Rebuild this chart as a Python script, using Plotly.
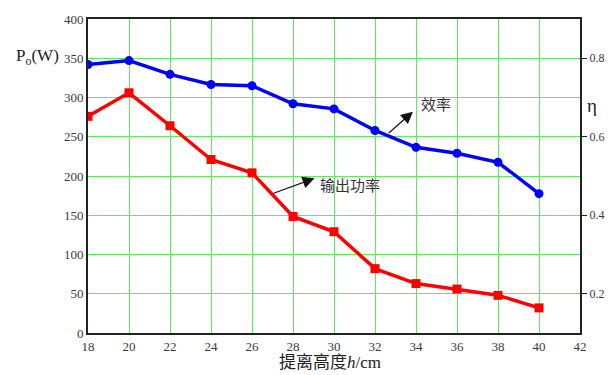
import plotly.graph_objects as go

# Lift-off height h (cm)
heights = [18, 20, 22, 24, 26, 28, 30, 32, 34, 36, 38, 40]
# Output power Po (W)
power = [276, 306, 264, 221, 204, 148.5, 129, 82, 63, 56, 48, 32]
# Efficiency η
efficiency = [0.784, 0.794, 0.759, 0.733, 0.730, 0.684, 0.671, 0.616, 0.573, 0.558, 0.535, 0.455]

x_ticks = [18, 20, 22, 24, 26, 28, 30, 32, 34, 36, 38, 40, 42]
left_ticks = [0, 50, 100, 150, 200, 250, 300, 350, 400]
right_ticks = [0.2, 0.4, 0.6, 0.8]

SERIF = "Liberation Serif, Noto Sans CJK SC, serif"
GRID = "rgb(90,238,90)"
TICK_COLOR = "#3a3a3a"

fig = go.Figure()

fig.add_trace(go.Scatter(
    x=heights, y=efficiency, yaxis="y2", mode="lines+markers",
    line=dict(color="#0000ff", width=3.5),
    marker=dict(symbol="circle", size=9, color="#0000ff"),
    showlegend=False,
))
fig.add_trace(go.Scatter(
    x=heights, y=power, mode="lines+markers",
    line=dict(color="#ff0000", width=3.5),
    marker=dict(symbol="square", size=9, color="#ff0000"),
    showlegend=False,
))

tick_font = dict(family=SERIF, size=13, color=TICK_COLOR)

fig.update_layout(
    width=616, height=375,
    margin=dict(l=88, r=22, t=17, b=42),
    paper_bgcolor="white", plot_bgcolor="white",
    font=dict(family=SERIF, color=TICK_COLOR, size=13),
    xaxis=dict(
        range=[18, 42], tickvals=x_ticks, ticktext=[str(v) for v in x_ticks],
        showgrid=True, gridcolor=GRID, gridwidth=1,
        showline=True, linecolor="#222", linewidth=2, mirror=True,
        ticks="", zeroline=False, tickfont=tick_font,
    ),
    yaxis=dict(
        range=[0, 400], tickvals=left_ticks, ticktext=[str(v) for v in left_ticks],
        showgrid=True, gridcolor=GRID, gridwidth=1,
        showline=True, linecolor="#222", linewidth=2, mirror=True,
        ticks="", zeroline=False, tickfont=tick_font,
    ),
    yaxis2=dict(
        range=[0.1, 0.9], overlaying="y", side="right",
        tickvals=right_ticks, ticktext=[f"{v:.1f}" for v in right_ticks],
        showgrid=False, zeroline=False, showline=False,
        ticks="outside", ticklen=6, tickwidth=1, tickcolor="#222",
        tickfont=dict(family=SERIF, size=12, color=TICK_COLOR),
    ),
)

# free text, positioned in pixels and converted to paper coordinates below
labels = [
    dict(text="P<sub>o</sub>(W)", x=36, y=55, size=17, color="#222"),
    dict(text="η", x=606, y=104, size=19, color="#222"),
    dict(text="提离高度<i>h</i>/cm", x=337, y=363, size=17, color="#222"),
    dict(text="效率", x=446, y=104, size=15, color="#333"),
    dict(text="输出功率", x=357, y=185, size=15, color="#333"),
]
px_l, px_r, px_t, px_b = 88, 594, 17, 333
annotations = []
for lb in labels:
    annotations.append(dict(
        text=lb["text"], showarrow=False,
        xref="paper", yref="paper",
        x=(lb["x"] - px_l) / (px_r - px_l),
        y=(px_b - lb["y"]) / (px_b - px_t),
        xanchor="center", yanchor="middle",
        font=dict(family=SERIF, size=lb["size"], color=lb["color"]),
    ))

# arrows pointing from the curves toward their labels
arrows = [
    dict(x=33.85, y=282, ax=32.6, ay=253),
    dict(x=29.05, y=197, ax=26.95, ay=177),
]
for ar in arrows:
    annotations.append(dict(
        x=ar["x"], y=ar["y"], ax=ar["ax"], ay=ar["ay"],
        xref="x", yref="y", axref="x", ayref="y",
        showarrow=True, arrowhead=2, arrowsize=2, arrowwidth=1.2,
        arrowcolor="#111", text="",
    ))

fig.update_layout(annotations=annotations)

fig.write_html("out.html")
